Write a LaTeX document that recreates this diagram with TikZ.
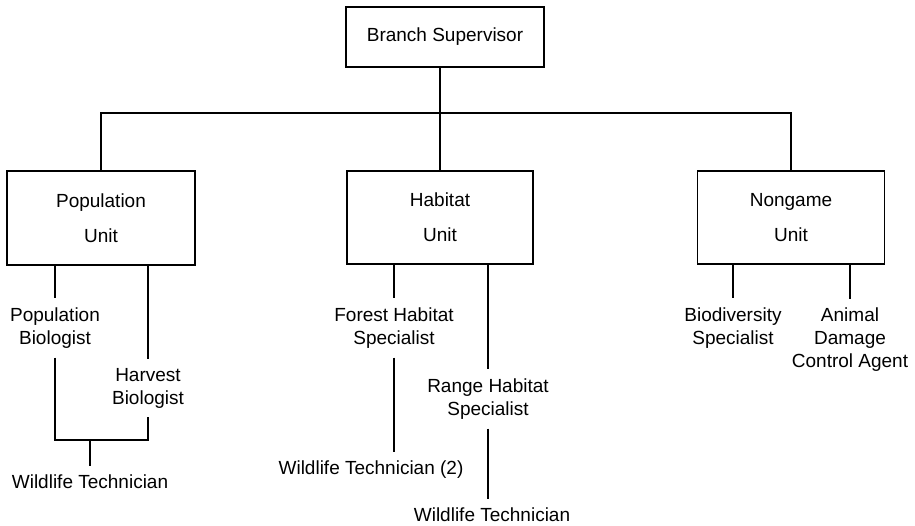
\documentclass[tikz,border=0pt]{standalone}
\usepackage{fontspec}
\setmainfont{Liberation Sans}
\begin{document}
\begin{tikzpicture}[x=1pt,y=-1pt,
  every node/.style={font=\fontsize{19}{23}\selectfont},
  box/.style={draw,line width=1.3pt,align=center,inner sep=0pt},
  lbl/.style={align=center,inner xsep=0pt,inner ysep=9pt},
  conn/.style={line width=1.3pt,line join=miter}]
\useasboundingbox (0,0) rectangle (915,526);
% boxes
\node[box,minimum width=198pt,minimum height=60pt] (bs) at (445,37) {Branch Supervisor};
\node[box,minimum width=188pt,minimum height=94pt] (pop) at (101,218) {Population\\[12pt]Unit};
\node[box,minimum width=186pt,minimum height=93pt] (hab) at (440,217.5) {Habitat\\[12pt]Unit};
\node[box,minimum width=187pt,minimum height=93pt] (non) at (791,217.5) {Nongame\\[12pt]Unit};
% labels
\node[lbl] (pb) at (55,328) {Population\\Biologist};
\node[lbl] (hb) at (148,388) {Harvest\\Biologist};
\node[lbl] (wt1) at (90,482) {Wildlife Technician};
\node[lbl] (fh) at (394,328) {Forest Habitat\\Specialist};
\node[lbl] (wt2) at (371,470) {Wildlife Technician (2)};
\node[lbl] (rh) at (488,399) {Range Habitat\\Specialist};
\node[lbl] (wt3) at (492,515) {Wildlife Technician};
\node[lbl] (bd) at (733,328) {Biodiversity\\Specialist};
\node[lbl] (adc) at (850,340) {Animal\\Damage\\Control Agent};
% connectors
\coordinate (bus) at (440,113);
\coordinate (j) at (90,440);
\draw[conn] (bs.south -| hab.north) -- (hab.north);
\draw[conn] (pop.north) |- (bus) -| (non.north);
\draw[conn] (pop.south -| pb.north) -- (pb.north);
\draw[conn] (pop.south -| hb.north) -- (hb.north);
\draw[conn] (pb.south) |- (hb.south |- j) -- (hb.south);
\draw[conn] (j) -- (wt1.north);
\draw[conn] (hab.south -| fh.north) -- (fh.north);
\draw[conn] (fh.south) -- (fh.south |- wt2.north);
\draw[conn] (hab.south -| rh.north) -- (rh.north);
\draw[conn] (rh.south) -- (rh.south |- wt3.north);
\draw[conn] (non.south -| bd.north) -- (bd.north);
\draw[conn] (non.south -| adc.north) -- (adc.north);
\end{tikzpicture}
\end{document}
